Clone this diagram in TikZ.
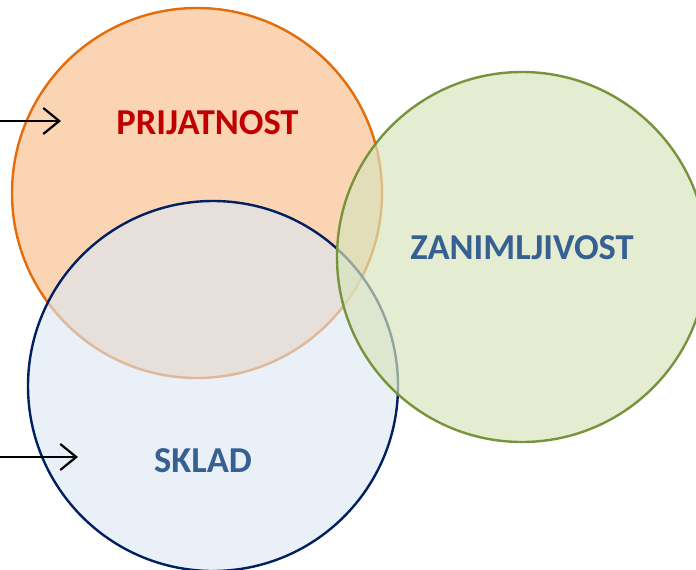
\documentclass[tikz,border=0pt]{standalone}
\usepackage{fontspec}
\setmainfont{Carlito}
\usetikzlibrary{arrows.meta}
\definecolor{orEdge}{HTML}{E46C0A}
\definecolor{orFill}{HTML}{FBD4B4}
\definecolor{blEdge}{HTML}{002060}
\definecolor{blFill}{HTML}{DCE6F2}
\definecolor{grEdge}{HTML}{77933C}
\definecolor{grFill}{HTML}{D7E4BD}
\definecolor{redTxt}{HTML}{C00000}
\definecolor{bluTxt}{HTML}{376092}
\tikzset{
  ring/.style={line width=2.4pt},
  lbl/.style={font=\bfseries\fontsize{36.5}{40}\selectfont, inner sep=0pt},
  arr/.style={line width=2.2pt, -{Straight Barb[length=16pt,width=26pt,line width=2.2pt]}}
}
\begin{document}
\begin{tikzpicture}[x=1pt,y=-1pt]
\useasboundingbox (0,0) rectangle (696,570);
\begin{scope}
\clip (0,0) rectangle (696,570);
\draw[ring, draw=orEdge, fill=orFill] (197,193) circle (185);
\draw[ring, draw=blEdge, fill=blFill, fill opacity=0.62] (213,386) circle (185);
\draw[ring, draw=grEdge, fill=grFill, fill opacity=0.68] (522,257) circle (185);
\end{scope}
\node[lbl, text=redTxt] (prij) at (207.5,123) {PRIJATNOST};
\node[lbl, text=bluTxt] (zan) at (522,247.5) {ZANIMLJIVOST};
\node[lbl, text=bluTxt] (skl) at (203,460.5) {SKLAD};
\coordinate (a1s) at (0,121);
\coordinate (a1e) at (61,121);
\coordinate (a2s) at (0,457);
\coordinate (a2e) at (78,457);
\draw[arr] (a1s) -- (a1e);
\draw[arr] (a2s) -- (a2e);
\end{tikzpicture}
\end{document}
